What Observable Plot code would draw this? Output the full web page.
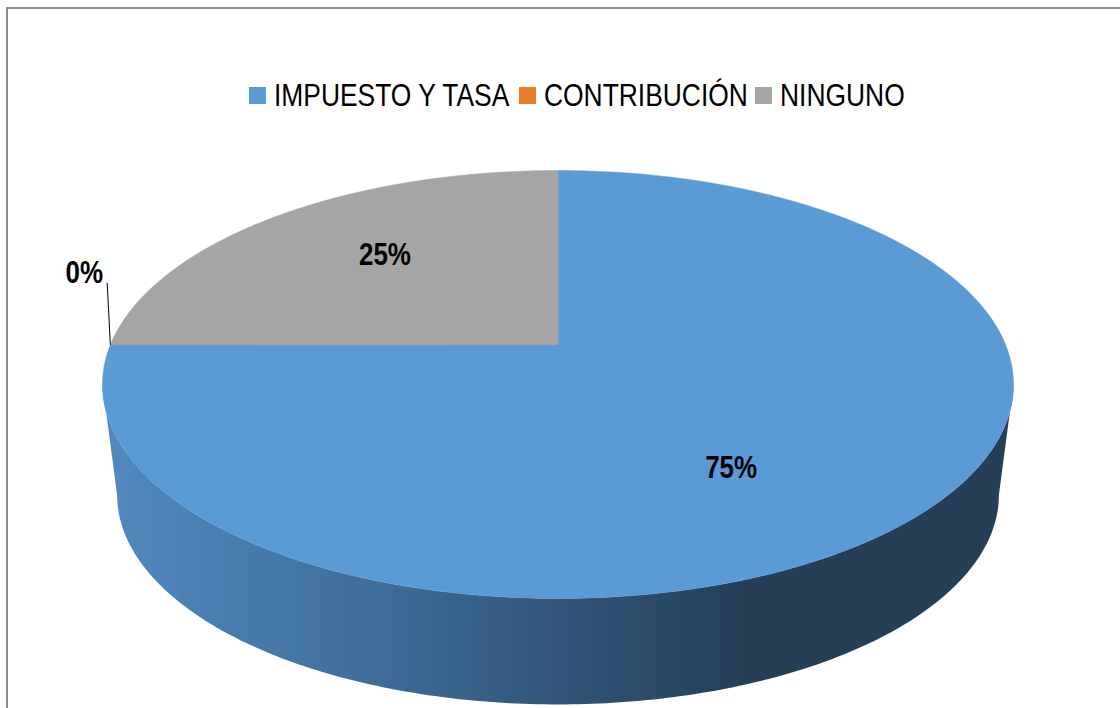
<!DOCTYPE html>
<html><head><meta charset="utf-8">
<script src="https://cdn.jsdelivr.net/npm/d3@7"></script>
<script src="https://cdn.jsdelivr.net/npm/@observablehq/plot@0.6"></script>
<style>
html,body{margin:0;padding:0;background:#fff;overflow:hidden}
#wrap{position:relative;width:1120px;height:708px;overflow:hidden}
#frame{position:absolute;left:6px;top:7px;width:1114px;height:701px;border-left:2px solid #8c8c8c;border-top:2px solid #8c8c8c;box-sizing:border-box;pointer-events:none}
#legend{position:absolute;top:78px;left:249px;height:34px;display:flex;align-items:center;font-family:"Liberation Sans",sans-serif;font-size:32px;color:#000;white-space:nowrap}
#legend i{display:inline-block;width:17px;height:17px;margin-right:8px;flex:none}
#legend span{display:inline-block;transform-origin:left center}
svg{display:block}
</style></head><body>
<div id="wrap"><div id="chart"></div><div id="frame"></div><div id="legend"></div></div>
<script>
const categories = ["IMPUESTO Y TASA", "CONTRIBUCIÓN", "NINGUNO"];
const shares = [75, 0, 25];
const colors = ["#5B9BD5", "#ED7D31", "#A5A5A5"];

// View of the tilted disc
const tilt = 0.185, wallScale = 0.968, wallDrop = 0.515;
const narrow = 0.825, labelNarrow = 0.81;
const legendGaps = [10, 7, 0];
const project = (a, r = 1) => {
  const u = r * Math.sin(a), v = r * Math.cos(a), d = 1 + tilt * v;
  return {x: u * Math.sqrt(1 - tilt * tilt) / d, y: (v + tilt) / d};
};
const toAngle = p => p / 100 * 2 * Math.PI;

let acc = 0;
const slices = shares.map((v, i) => { const s = {name: categories[i], value: v, color: colors[i], a0: toAngle(acc), a1: toAngle(acc + v)}; acc += v; return s; });

const wedge = s => {
  const n = Math.max(1, Math.round(s.value * 4));
  const pts = [{...project(0, 0), name: s.name}];
  for (let i = 0; i <= n; i++) pts.push({...project(s.a0 + (s.a1 - s.a0) * i / n), name: s.name});
  return pts;
};
const wallPts = [];
for (let i = 0; i <= 200; i++) { const a = Math.PI * i / 200; wallPts.push({x: -Math.cos(a), y: -Math.sin(a)}); }
for (let i = 200; i >= 0; i--) { const a = Math.PI * i / 200; wallPts.push({x: -Math.cos(a) * wallScale, y: -Math.sin(a) * 0.98 - wallDrop}); }

const gradient = () => {
  const d = d3.create("svg:defs");
  const g = d.append("linearGradient").attr("id", "wall").attr("gradientUnits", "userSpaceOnUse")
    .attr("x1", 102).attr("x2", 745).attr("y1", 0).attr("y2", 0);
  [[0, "#5289C0"], [0.4, "#3F6F9B"], [0.7, "#31567A"], [1, "#243F56"]].forEach(([o, c]) => g.append("stop").attr("offset", o).attr("stop-color", c));
  return d.node();
};

const zero = slices[1], quarter = slices[2], big = slices[0];
const labelAt = (s, r) => ({...project((s.a0 + s.a1) / 2, r), label: s.value + "%"});
const labelStyle = {text: "label", x: "x", y: "y", fontFamily: '"Liberation Sans",sans-serif', fontWeight: 700, fontSize: 32, fill: "#000", className: "pct"};
const tip = project(zero.a0);

const chart = Plot.plot({
  width: 1120, height: 708, margin: 0,
  x: {domain: [-1, 1], range: [102, 1013], axis: null},
  y: {domain: [-1, 1], range: [598, 170], axis: null},
  marks: [
    gradient,
    Plot.line(wallPts, {x: "x", y: "y", fill: "url(#wall)", stroke: "none", curve: "linear-closed"}),
    ...slices.filter(s => s.value > 0).map(s => Plot.line(wedge(s), {x: "x", y: "y", fill: s.color, stroke: s.color, strokeWidth: 0.5, curve: "linear-closed"})),
    Plot.link([tip], {x1: "x", y1: "y", x2: d => d.x - 0.007, y2: d => d.y + 0.29, stroke: "#000", strokeWidth: 1}),
    Plot.text([labelAt(big, 0.6)], {...labelStyle, dx: -33, dy: 28}),
    Plot.text([labelAt(quarter, 0.6)], {...labelStyle, dx: 3, dy: -9}),
    Plot.text([{...tip, label: zero.value + "%"}], {...labelStyle, dx: -26, dy: -72})
  ]
});
document.getElementById("chart").append(chart);
chart.querySelectorAll("g.pct text, text.pct, .pct text").forEach(t => {
  t.setAttribute("textLength", (t.getComputedTextLength() * labelNarrow).toFixed(1));
  t.setAttribute("lengthAdjust", "spacingAndGlyphs");
});
const lg = d3.select("#legend");
slices.forEach((s, i) => {
  lg.append("i").style("background", s.color);
  const sp = lg.append("span").text(s.name).style("transform", `scaleX(${narrow})`);
  const w = sp.node().getBoundingClientRect().width / narrow;
  sp.style("margin-right", (legendGaps[i] - w * (1 - narrow)) + "px");
});
</script>
</body></html>
